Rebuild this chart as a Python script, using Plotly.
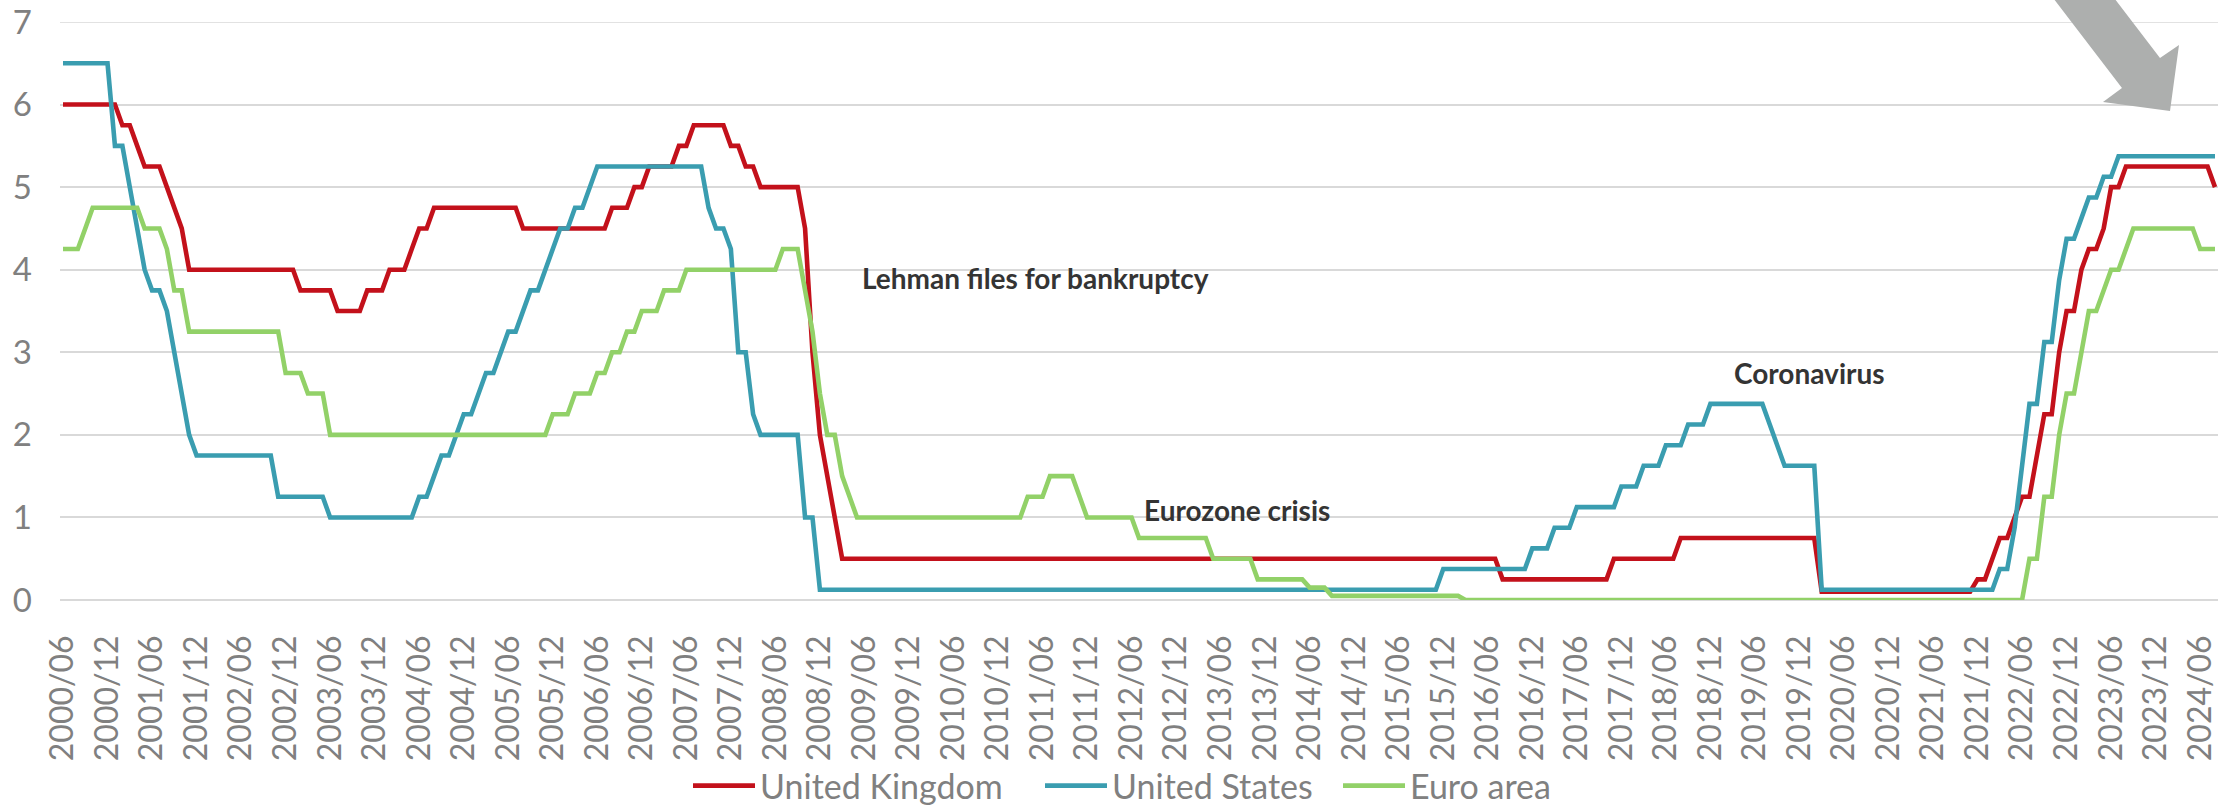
import pandas as pd
import plotly.graph_objects as go

# Monthly observations, June 2000 to August 2024
months = list(pd.period_range("2000-06", "2024-08", freq="M").strftime("%Y/%m"))
tick_labels = months[::6]

# Policy rates (%), month-end values, one row per calendar year
uk_rate = [
    6.00, 6.00, 6.00, 6.00, 6.00, 6.00, 6.00,
    6.00, 5.75, 5.75, 5.50, 5.25, 5.25, 5.25, 5.00, 4.75, 4.50, 4.00, 4.00,
    4.00, 4.00, 4.00, 4.00, 4.00, 4.00, 4.00, 4.00, 4.00, 4.00, 4.00, 4.00,
    4.00, 3.75, 3.75, 3.75, 3.75, 3.75, 3.50, 3.50, 3.50, 3.50, 3.75, 3.75,
    3.75, 4.00, 4.00, 4.00, 4.25, 4.50, 4.50, 4.75, 4.75, 4.75, 4.75, 4.75,
    4.75, 4.75, 4.75, 4.75, 4.75, 4.75, 4.75, 4.50, 4.50, 4.50, 4.50, 4.50,
    4.50, 4.50, 4.50, 4.50, 4.50, 4.50, 4.50, 4.75, 4.75, 4.75, 5.00, 5.00,
    5.25, 5.25, 5.25, 5.25, 5.50, 5.50, 5.75, 5.75, 5.75, 5.75, 5.75, 5.50,
    5.50, 5.25, 5.25, 5.00, 5.00, 5.00, 5.00, 5.00, 5.00, 4.50, 3.00, 2.00,
    1.50, 1.00, 0.50, 0.50, 0.50, 0.50, 0.50, 0.50, 0.50, 0.50, 0.50, 0.50,
    0.50, 0.50, 0.50, 0.50, 0.50, 0.50, 0.50, 0.50, 0.50, 0.50, 0.50, 0.50,
    0.50, 0.50, 0.50, 0.50, 0.50, 0.50, 0.50, 0.50, 0.50, 0.50, 0.50, 0.50,
    0.50, 0.50, 0.50, 0.50, 0.50, 0.50, 0.50, 0.50, 0.50, 0.50, 0.50, 0.50,
    0.50, 0.50, 0.50, 0.50, 0.50, 0.50, 0.50, 0.50, 0.50, 0.50, 0.50, 0.50,
    0.50, 0.50, 0.50, 0.50, 0.50, 0.50, 0.50, 0.50, 0.50, 0.50, 0.50, 0.50,
    0.50, 0.50, 0.50, 0.50, 0.50, 0.50, 0.50, 0.50, 0.50, 0.50, 0.50, 0.50,
    0.50, 0.50, 0.50, 0.50, 0.50, 0.50, 0.50, 0.25, 0.25, 0.25, 0.25, 0.25,
    0.25, 0.25, 0.25, 0.25, 0.25, 0.25, 0.25, 0.25, 0.25, 0.25, 0.50, 0.50,
    0.50, 0.50, 0.50, 0.50, 0.50, 0.50, 0.50, 0.75, 0.75, 0.75, 0.75, 0.75,
    0.75, 0.75, 0.75, 0.75, 0.75, 0.75, 0.75, 0.75, 0.75, 0.75, 0.75, 0.75,
    0.75, 0.75, 0.10, 0.10, 0.10, 0.10, 0.10, 0.10, 0.10, 0.10, 0.10, 0.10,
    0.10, 0.10, 0.10, 0.10, 0.10, 0.10, 0.10, 0.10, 0.10, 0.10, 0.10, 0.25,
    0.25, 0.50, 0.75, 0.75, 1.00, 1.25, 1.25, 1.75, 2.25, 2.25, 3.00, 3.50,
    3.50, 4.00, 4.25, 4.25, 4.50, 5.00, 5.00, 5.25, 5.25, 5.25, 5.25, 5.25,
    5.25, 5.25, 5.25, 5.25, 5.25, 5.25, 5.25, 5.00,
]

us_rate = [
    6.50, 6.50, 6.50, 6.50, 6.50, 6.50, 6.50,
    5.50, 5.50, 5.00, 4.50, 4.00, 3.75, 3.75, 3.50, 3.00, 2.50, 2.00, 1.75,
    1.75, 1.75, 1.75, 1.75, 1.75, 1.75, 1.75, 1.75, 1.75, 1.75, 1.25, 1.25,
    1.25, 1.25, 1.25, 1.25, 1.25, 1.00, 1.00, 1.00, 1.00, 1.00, 1.00, 1.00,
    1.00, 1.00, 1.00, 1.00, 1.00, 1.25, 1.25, 1.50, 1.75, 1.75, 2.00, 2.25,
    2.25, 2.50, 2.75, 2.75, 3.00, 3.25, 3.25, 3.50, 3.75, 3.75, 4.00, 4.25,
    4.50, 4.50, 4.75, 4.75, 5.00, 5.25, 5.25, 5.25, 5.25, 5.25, 5.25, 5.25,
    5.25, 5.25, 5.25, 5.25, 5.25, 5.25, 5.25, 5.25, 4.75, 4.50, 4.50, 4.25,
    3.00, 3.00, 2.25, 2.00, 2.00, 2.00, 2.00, 2.00, 2.00, 1.00, 1.00, 0.125,
    0.125, 0.125, 0.125, 0.125, 0.125, 0.125, 0.125, 0.125, 0.125, 0.125, 0.125, 0.125,
    0.125, 0.125, 0.125, 0.125, 0.125, 0.125, 0.125, 0.125, 0.125, 0.125, 0.125, 0.125,
    0.125, 0.125, 0.125, 0.125, 0.125, 0.125, 0.125, 0.125, 0.125, 0.125, 0.125, 0.125,
    0.125, 0.125, 0.125, 0.125, 0.125, 0.125, 0.125, 0.125, 0.125, 0.125, 0.125, 0.125,
    0.125, 0.125, 0.125, 0.125, 0.125, 0.125, 0.125, 0.125, 0.125, 0.125, 0.125, 0.125,
    0.125, 0.125, 0.125, 0.125, 0.125, 0.125, 0.125, 0.125, 0.125, 0.125, 0.125, 0.125,
    0.125, 0.125, 0.125, 0.125, 0.125, 0.125, 0.125, 0.125, 0.125, 0.125, 0.125, 0.375,
    0.375, 0.375, 0.375, 0.375, 0.375, 0.375, 0.375, 0.375, 0.375, 0.375, 0.375, 0.625,
    0.625, 0.625, 0.875, 0.875, 0.875, 1.125, 1.125, 1.125, 1.125, 1.125, 1.125, 1.375,
    1.375, 1.375, 1.625, 1.625, 1.625, 1.875, 1.875, 1.875, 2.125, 2.125, 2.125, 2.375,
    2.375, 2.375, 2.375, 2.375, 2.375, 2.375, 2.375, 2.125, 1.875, 1.625, 1.625, 1.625,
    1.625, 1.625, 0.125, 0.125, 0.125, 0.125, 0.125, 0.125, 0.125, 0.125, 0.125, 0.125,
    0.125, 0.125, 0.125, 0.125, 0.125, 0.125, 0.125, 0.125, 0.125, 0.125, 0.125, 0.125,
    0.125, 0.125, 0.375, 0.375, 0.875, 1.625, 2.375, 2.375, 3.125, 3.125, 3.875, 4.375,
    4.375, 4.625, 4.875, 4.875, 5.125, 5.125, 5.375, 5.375, 5.375, 5.375, 5.375, 5.375,
    5.375, 5.375, 5.375, 5.375, 5.375, 5.375, 5.375, 5.375,
]

euro_rate = [
    4.25, 4.25, 4.25, 4.50, 4.75, 4.75, 4.75,
    4.75, 4.75, 4.75, 4.75, 4.50, 4.50, 4.50, 4.25, 3.75, 3.75, 3.25, 3.25,
    3.25, 3.25, 3.25, 3.25, 3.25, 3.25, 3.25, 3.25, 3.25, 3.25, 3.25, 2.75,
    2.75, 2.75, 2.50, 2.50, 2.50, 2.00, 2.00, 2.00, 2.00, 2.00, 2.00, 2.00,
    2.00, 2.00, 2.00, 2.00, 2.00, 2.00, 2.00, 2.00, 2.00, 2.00, 2.00, 2.00,
    2.00, 2.00, 2.00, 2.00, 2.00, 2.00, 2.00, 2.00, 2.00, 2.00, 2.00, 2.25,
    2.25, 2.25, 2.50, 2.50, 2.50, 2.75, 2.75, 3.00, 3.00, 3.25, 3.25, 3.50,
    3.50, 3.50, 3.75, 3.75, 3.75, 4.00, 4.00, 4.00, 4.00, 4.00, 4.00, 4.00,
    4.00, 4.00, 4.00, 4.00, 4.00, 4.00, 4.25, 4.25, 4.25, 3.75, 3.25, 2.50,
    2.00, 2.00, 1.50, 1.25, 1.00, 1.00, 1.00, 1.00, 1.00, 1.00, 1.00, 1.00,
    1.00, 1.00, 1.00, 1.00, 1.00, 1.00, 1.00, 1.00, 1.00, 1.00, 1.00, 1.00,
    1.00, 1.00, 1.00, 1.25, 1.25, 1.25, 1.50, 1.50, 1.50, 1.50, 1.25, 1.00,
    1.00, 1.00, 1.00, 1.00, 1.00, 1.00, 0.75, 0.75, 0.75, 0.75, 0.75, 0.75,
    0.75, 0.75, 0.75, 0.75, 0.50, 0.50, 0.50, 0.50, 0.50, 0.50, 0.25, 0.25,
    0.25, 0.25, 0.25, 0.25, 0.25, 0.15, 0.15, 0.15, 0.05, 0.05, 0.05, 0.05,
    0.05, 0.05, 0.05, 0.05, 0.05, 0.05, 0.05, 0.05, 0.05, 0.05, 0.05, 0.05,
    0.05, 0.05, 0.00, 0.00, 0.00, 0.00, 0.00, 0.00, 0.00, 0.00, 0.00, 0.00,
    0.00, 0.00, 0.00, 0.00, 0.00, 0.00, 0.00, 0.00, 0.00, 0.00, 0.00, 0.00,
    0.00, 0.00, 0.00, 0.00, 0.00, 0.00, 0.00, 0.00, 0.00, 0.00, 0.00, 0.00,
    0.00, 0.00, 0.00, 0.00, 0.00, 0.00, 0.00, 0.00, 0.00, 0.00, 0.00, 0.00,
    0.00, 0.00, 0.00, 0.00, 0.00, 0.00, 0.00, 0.00, 0.00, 0.00, 0.00, 0.00,
    0.00, 0.00, 0.00, 0.00, 0.00, 0.00, 0.00, 0.00, 0.00, 0.00, 0.00, 0.00,
    0.00, 0.00, 0.00, 0.00, 0.00, 0.00, 0.50, 0.50, 1.25, 1.25, 2.00, 2.50,
    2.50, 3.00, 3.50, 3.50, 3.75, 4.00, 4.00, 4.25, 4.50, 4.50, 4.50, 4.50,
    4.50, 4.50, 4.50, 4.50, 4.50, 4.25, 4.25, 4.25,
]

for _s in (uk_rate, us_rate, euro_rate):
    assert len(_s) == len(months), len(_s)

# Event labels: (text, month index, rate level)
events = [
    ("Lehman files for bankruptcy", 107.4, 3.90),
    ("Eurozone crisis", 145.4, 1.09),
    ("Coronavirus", 224.9, 2.75),
]

series = [
    ("United Kingdom", uk_rate, "#C3111B"),
    ("United States", us_rate, "#3A9DB0"),
    ("Euro area", euro_rate, "#92D168"),
]

W, H = 2234, 806
PLOT_L, PLOT_R, PLOT_T, PLOT_B = 60, 2218, 22, 600
Y_MAX = 7
FONT = "Lato"
GREY = "#808080"
GRID = "#D9D9D9"

# Left edge (page px) of each legend entry
legend_left_px = [688, 1040, 1338]
LEGEND_Y_PX = 786


def to_paper(pt):
    x, y = pt
    return ((x - PLOT_L) / (PLOT_R - PLOT_L), (PLOT_B - y) / (PLOT_B - PLOT_T))


fig = go.Figure()
legend_layout = {}
for i, (name, values, colour) in enumerate(series):
    key = "legend" if i == 0 else f"legend{i + 1}"
    fig.add_trace(go.Scatter(
        x=months, y=values, name=name, mode="lines",
        line=dict(color=colour, width=4.6), legend=key,
    ))
    lx, ly = to_paper((legend_left_px[i], LEGEND_Y_PX))
    legend_layout[key] = dict(
        orientation="h", x=lx, xanchor="left", y=ly, yanchor="middle",
        font=dict(family=FONT, size=34, color=GREY),
        itemwidth=62, bgcolor="rgba(0,0,0,0)", borderwidth=0,
    )

for text, xi, yv in events:
    fig.add_annotation(
        x=xi, y=yv, xref="x", yref="y", text=f"<b>{text}</b>",
        showarrow=False, xanchor="left", yanchor="middle",
        font=dict(family=FONT, size=28, color="#343434"),
    )

# Top gridline sits on the plot edge, so draw it explicitly
fig.add_shape(type="line", xref="paper", yref="y", x0=0, x1=1, y0=Y_MAX, y1=Y_MAX,
              line=dict(color=GRID, width=1.6), layer="below")

# Downward arrow in the top-right corner (page pixels)
arrow_px = [(2047, -10), (2122, 88), (2103, 102), (2170, 111),
            (2179, 45), (2160, 58), (2108, -10)]
path = "M " + " L ".join(f"{px:.5f},{py:.5f}" for px, py in map(to_paper, arrow_px)) + " Z"
fig.add_shape(type="path", path=path, xref="paper", yref="paper",
              fillcolor="#ADAFAE", line=dict(width=0), layer="above")

n = len(months)
pad = 3 / ((PLOT_R - PLOT_L - 6) / (n - 1))
fig.update_layout(
    width=W, height=H,
    margin=dict(l=PLOT_L, r=W - PLOT_R, t=PLOT_T, b=H - PLOT_B, pad=0,
                autoexpand=False),
    paper_bgcolor="white", plot_bgcolor="white",
    font=dict(family=FONT, color=GREY),
    showlegend=True,
    xaxis=dict(
        type="category", range=[-pad, n - 1 + pad],
        tickmode="array", tickvals=tick_labels, ticktext=tick_labels,
        tickangle=-90, showgrid=False, zeroline=False, showline=False,
        ticks="", ticklabelstandoff=28,
        tickfont=dict(family=FONT, size=32, color=GREY),
    ),
    yaxis=dict(
        range=[0, Y_MAX], dtick=1, tick0=0, showgrid=True, gridcolor=GRID,
        gridwidth=1.6, zeroline=True, zerolinecolor=GRID, zerolinewidth=1.6,
        showline=False, ticks="", ticklabelstandoff=27,
        tickfont=dict(family=FONT, size=33, color=GREY),
    ),
    **legend_layout,
)

fig.write_html("out.html")
